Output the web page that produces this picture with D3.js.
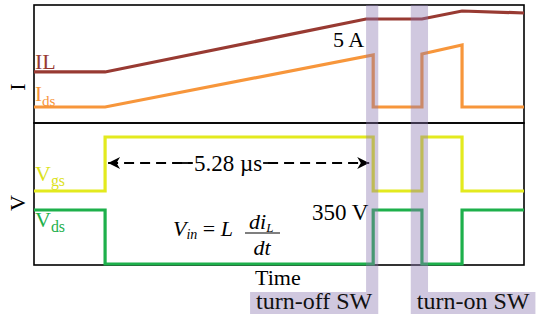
<!DOCTYPE html>
<html>
<head>
<meta charset="utf-8">
<script src="https://cdn.jsdelivr.net/npm/d3@7"></script>
<style>
  body { margin: 0; background: #fff; }
  text { font-family: 'Liberation Serif', 'Times New Roman', serif; }
</style>
</head>
<body>
<div id="chart"></div>
<script>
const width = 550
const height = 323
const left = 34
const right = 524
const top1 = 5
const mid = 123
const bottom = 265

// time axis in microseconds
const tEnd = 9.65
const tOnGate = 1.40
const tOffEdge = 6.68

// switching windows (shaded bands)
const bands = [[6.54, 6.78], [7.42, 7.76]]
const bandLabels = ['turn-off SW', 'turn-on SW']

// currents (A)
const ilT = [0, 1.40, 6.54, 7.64, 8.43, 9.65]
const ilV = [3.37, 3.37, 8.46, 8.46, 9.23, 9.04]
const idsT = [0, 1.40, 6.68, 6.68, 7.64, 7.64, 8.43, 8.43, 9.65]
const idsV = [0, 0, 5.0, 0, 0, 5.1, 5.96, 0, 0]

// voltages
const vgsT = [0, 1.40, 1.40, 6.68, 6.68, 7.64, 7.64, 8.43, 8.43, 9.65]
const vgsV = [0, 0, 15, 15, 0, 0, 15, 15, 0, 0]
const vdsT = [0, 1.40, 1.40, 6.68, 6.68, 7.64, 7.64, 8.43, 8.43, 9.65]
const vdsV = [350, 350, 0, 0, 350, 350, 0, 0, 350, 350]

const svg = d3.select('#chart')
    .append('svg')
    .attr('width', width)
    .attr('height', height)

const x = d3.scaleLinear().domain([0, tEnd]).range([left, right])
const yI = d3.scaleLinear().domain([0, 5]).range([107, 55])
const yVgs = d3.scaleLinear().domain([0, 15]).range([191, 137])
const yVds = d3.scaleLinear().domain([0, 350]).range([264, 210])

const zip = (ts, vs) => ts.map((t, i) => [t, vs[i]])

// Frames
svg.append('rect')
    .attr('x', left).attr('y', top1)
    .attr('width', right - left).attr('height', mid - top1)
    .attr('fill', 'none').attr('stroke', '#000').attr('stroke-width', 1.6)
svg.append('rect')
    .attr('x', left).attr('y', mid)
    .attr('width', right - left).attr('height', bottom - mid)
    .attr('fill', 'none').attr('stroke', '#000').attr('stroke-width', 1.6)

// Traces
const traces = [
    {pts: zip(ilT, ilV), y: yI, color: '#983A32'},
    {pts: zip(idsT, idsV), y: yI, color: '#F7963B'},
    {pts: zip(vgsT, vgsV), y: yVgs, color: '#E3EA1E'},
    {pts: zip(vdsT, vdsV), y: yVds, color: '#1DB04B'}
]
traces.forEach(tr => {
    svg.append('path')
        .datum(tr.pts)
        .attr('fill', 'none')
        .attr('stroke', tr.color)
        .attr('stroke-width', 3.2)
        .attr('d', d3.line().x(d => x(d[0])).y(d => tr.y(d[1])))
})

// Arrow 5.28 us
const defs = svg.append('defs')
defs.append('marker')
    .attr('id', 'ah')
    .attr('viewBox', '0 0 10 10')
    .attr('refX', 10).attr('refY', 5)
    .attr('markerWidth', 14).attr('markerHeight', 12)
    .attr('markerUnits', 'userSpaceOnUse')
    .attr('orient', 'auto-start-reverse')
    .append('path')
    .attr('d', 'M0,0 L10,5 L0,10 L3,5 Z')
    .attr('fill', '#000')
const arrowY = 163
svg.append('line')
    .attr('x1', x(tOnGate) + 3).attr('x2', x(tOffEdge) - 4)
    .attr('y1', arrowY).attr('y2', arrowY)
    .attr('stroke', '#000').attr('stroke-width', 1.8)
    .attr('stroke-dasharray', '10,6')
    .attr('marker-start', 'url(#ah)')
    .attr('marker-end', 'url(#ah)')
const lblX = 228
const bg = svg.append('rect').attr('fill', '#fff')
const dtLabel = svg.append('text')
    .attr('x', lblX).attr('y', arrowY + 8)
    .attr('text-anchor', 'middle')
    .attr('font-size', 23)
    .text('5.28 \u00b5s')
const lw = dtLabel.node().getComputedTextLength()
bg.attr('x', lblX - lw / 2 - 2).attr('y', arrowY - 10)
    .attr('width', lw + 4).attr('height', 20)
svg.append('line')
    .attr('x1', lblX - lw / 2 - 12).attr('x2', lblX - lw / 2 - 1)
    .attr('y1', arrowY).attr('y2', arrowY)
    .attr('stroke', '#000').attr('stroke-width', 1.8)
svg.append('line')
    .attr('x1', lblX + lw / 2 + 1).attr('x2', lblX + lw / 2 + 10)
    .attr('y1', arrowY).attr('y2', arrowY)
    .attr('stroke', '#000').attr('stroke-width', 1.8)

// Shaded switching bands with labels
const bandColor = '#8A75AE'
svg.selectAll('rect.band')
    .data(bands)
    .enter()
    .append('rect')
    .attr('class', 'band')
    .attr('x', d => x(d[0]))
    .attr('y', top1)
    .attr('width', d => x(d[1]) - x(d[0]))
    .attr('height', 292 - top1)
    .attr('fill', bandColor)
    .attr('fill-opacity', 0.4)

bandLabels.forEach((lab, i) => {
    const g = svg.append('g')
    const box = g.append('rect')
    const t = g.append('text')
        .attr('y', 309)
        .attr('font-size', 24)
        .attr('fill', '#111')
        .text(lab)
    const w = t.node().getComputedTextLength() + 12
    const bx = i === 0 ? x(bands[i][1]) - w : x(bands[i][0])
    t.attr('x', bx + w / 2).attr('text-anchor', 'middle')
    box.attr('x', bx).attr('y', 292)
        .attr('width', w).attr('height', 22)
        .attr('fill', bandColor).attr('fill-opacity', 0.4)
})

// Axis labels
svg.append('text')
    .attr('transform', 'translate(25,87) rotate(-90)')
    .attr('text-anchor', 'middle')
    .attr('font-size', 22)
    .text('I')
svg.append('text')
    .attr('transform', 'translate(25,203) rotate(-90)')
    .attr('text-anchor', 'middle')
    .attr('font-size', 22)
    .text('V')
svg.append('text')
    .attr('x', 255).attr('y', 285)
    .attr('font-size', 22)
    .text('Time')

// Trace labels
const sigLabel = (lx, ly, main, sub, color, size) => {
    const t = svg.append('text')
        .attr('x', lx).attr('y', ly)
        .attr('font-size', size)
        .attr('fill', color)
    t.append('tspan').text(main)
    if (sub) t.append('tspan').attr('dy', 5).attr('font-size', size * 0.72).text(sub)
}
sigLabel(35, 69, 'IL', null, '#983A32', 22)
sigLabel(35, 101, 'I', 'ds', '#F7963B', 21)
sigLabel(35, 181, 'V', 'gs', '#DCE21A', 22)
sigLabel(35, 227, 'V', 'ds', '#1DB04B', 22)

// Value annotations
svg.append('text')
    .attr('x', 333).attr('y', 47)
    .attr('font-size', 22)
    .text('5 A')
svg.append('text')
    .attr('x', 312).attr('y', 220)
    .attr('font-size', 23)
    .text('350 V')

// Formula Vin = L diL/dt
const f = svg.append('g').attr('font-style', 'italic').attr('font-size', 22)
const eq = f.append('text').attr('x', 173).attr('y', 236)
eq.append('tspan').text('V')
eq.append('tspan').attr('dy', 3).attr('font-size', 14).text('in')
eq.append('tspan').attr('dy', -3).attr('font-style', 'normal').text(' = ')
eq.append('tspan').text('L')
const num = f.append('text').attr('x', 249).attr('y', 229)
num.append('tspan').text('di')
num.append('tspan').attr('dy', 3).attr('font-size', 13).text('L')
f.append('line')
    .attr('x1', 245).attr('x2', 280)
    .attr('y1', 233).attr('y2', 233)
    .attr('stroke', '#000').attr('stroke-width', 1.2)
f.append('text').attr('x', 262).attr('y', 255)
    .attr('text-anchor', 'middle')
    .text('dt')
</script>
</body>
</html>
